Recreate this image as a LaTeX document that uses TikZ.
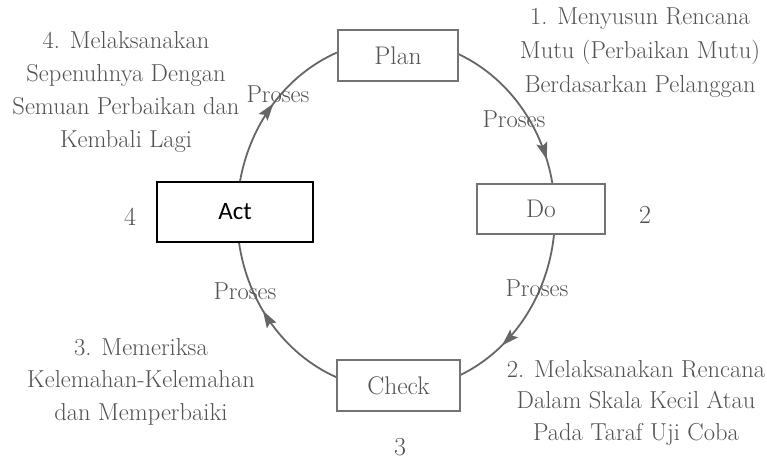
\documentclass[tikz,border=0pt]{standalone}
\usepackage{fontspec}
\newfontfamily\actfont{Carlito}
\usetikzlibrary{arrows.meta,decorations.markings,calc}
\begin{document}
\begin{tikzpicture}[x=1pt,y=1pt,
  txt/.style={text=black!68, font=\fontsize{24.5}{33}\selectfont, align=center, inner sep=0pt},
  lbl/.style={text=black!68, font=\fontsize{24.5}{28}\selectfont, inner sep=0pt},
  num/.style={text=black!68, font=\fontsize{26}{30}\selectfont, inner sep=0pt},
  box/.style={draw=black!55, line width=1.5pt, fill=white, minimum width=120pt, minimum height=51pt,
              text=black!68, font=\fontsize{25.5}{30}\selectfont, inner sep=0pt},
  cyc/.style={draw=black!60, line width=1.8pt},
  arrowat/.style={postaction={decorate}, decoration={markings,
      mark=at position #1 with {\arrow[black!60]{Stealth[length=17pt,width=11pt,inset=3pt]}}}}]
\useasboundingbox[fill=white] (0,0) rectangle (767,-460);
\coordinate (C) at (396,-215);
% cycle arcs (ellipse 159 x 175)
\coordinate (p1) at ($(C)+(67.4:159pt and 175pt)$);
\coordinate (p2) at ($(C)+(-6.2:159pt and 175pt)$);
\coordinate (p3) at ($(C)+(-111.8:159pt and 175pt)$);
\coordinate (p4) at ($(C)+(169.1:159pt and 175pt)$);
\draw[cyc, arrowat=0.85] (p1) arc[start angle=67.4, end angle=10.2, x radius=159pt, y radius=175pt];
\draw[cyc, arrowat=0.70] (p2) arc[start angle=-6.2, end angle=-67, x radius=159pt, y radius=175pt];
\draw[cyc, arrowat=0.58] (p3) arc[start angle=-111.8, end angle=-171.1, x radius=159pt, y radius=175pt];
\draw[cyc, arrowat=0.51] (p4) arc[start angle=169.1, end angle=111.8, x radius=159pt, y radius=175pt];
% boxes
\node[box] (plan) at (398,-55.5) {Plan};
\node[box, minimum width=128pt, minimum height=50pt] (do) at (541,-209) {Do};
\node[box, minimum width=123pt] (check) at (398.5,-385.5) {Check};
\node[draw=black, line width=1.5pt, fill=white, minimum width=156pt, minimum height=60pt,
      font=\actfont\fontsize{25}{30}\selectfont] (act) at (235,-212) {Act};
% annotations (anchor base = last line's baseline)
\node[txt, anchor=base] (t4) at (126,-147) {4. Melaksanakan\\Sepenuhnya Dengan\\Semuan Perbaikan dan\\Kembali Lagi};
\node[txt, anchor=base, font=\fontsize{24.5}{33.5}\selectfont] (t1) at (640,-92) {1. Menyusun Rencana\\Mutu (Perbaikan Mutu)\\Berdasarkan Pelanggan};
\node[txt, anchor=base, font=\fontsize{24.5}{32.5}\selectfont] (t3) at (141,-420) {3. Memeriksa\\Kelemahan-Kelemahan\\dan Memperbaiki};
\node[txt, anchor=base, font=\fontsize{24.5}{31.5}\selectfont] (t2) at (636,-440) {2. Melaksanakan Rencana\\Dalam Skala Kecil Atau\\Pada Taraf Uji Coba};
% proses labels
\node[lbl, anchor=base] (pr1) at (278,-102) {Proses};
\node[lbl, anchor=base] (pr2) at (514,-127) {Proses};
\node[lbl, anchor=base] (pr3) at (537,-296) {Proses};
\node[lbl, anchor=base] (pr4) at (245,-299) {Proses};
% numbers
\node[num] (n4) at (130,-217) {4};
\node[num] (n2) at (645,-215) {2};
\node[num] (n3) at (400,-447) {3};
\end{tikzpicture}
\end{document}
